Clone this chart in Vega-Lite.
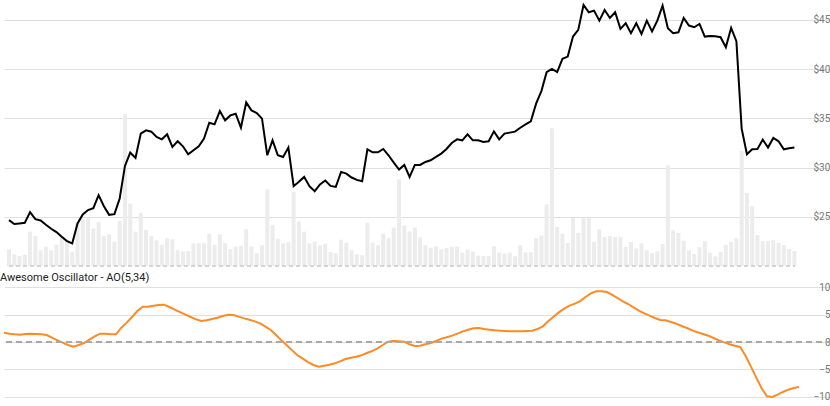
{
  "$schema": "https://vega.github.io/schema/vega-lite/v6.json",
  "padding": 0,
  "spacing": 5,
  "background": "white",
  "config": {
    "view": {"stroke": null},
    "font": "Roboto",
    "axis": {"grid": true, "gridColor": "#e0e0e0", "gridWidth": 1, "labelColor": "#777777", "labelFontSize": 10, "labelFont": "Roboto", "labelOverlap": false}
  },
  "data": {
    "values": [
      {"i":0,"price":24.66,"volume":16.7,"ao":1.70},
      {"i":1,"price":24.26,"volume":11.7,"ao":1.52},
      {"i":2,"price":24.32,"volume":10,"ao":1.39},
      {"i":3,"price":24.39,"volume":11,"ao":1.33},
      {"i":4,"price":25.47,"volume":34.3,"ao":1.45},
      {"i":5,"price":24.76,"volume":30,"ao":1.52},
      {"i":6,"price":24.63,"volume":15.7,"ao":1.45},
      {"i":7,"price":24.19,"volume":19.3,"ao":1.39},
      {"i":8,"price":23.78,"volume":15.7,"ao":1.27},
      {"i":9,"price":23.45,"volume":21.3,"ao":0.79},
      {"i":10,"price":22.97,"volume":30,"ao":0.30},
      {"i":11,"price":22.53,"volume":26,"ao":-0.12},
      {"i":12,"price":22.30,"volume":14.3,"ao":-0.55},
      {"i":13,"price":24.32,"volume":44,"ao":-0.85},
      {"i":14,"price":25.24,"volume":47,"ao":-0.55},
      {"i":15,"price":25.68,"volume":48,"ao":-0.18},
      {"i":16,"price":25.88,"volume":37.5,"ao":0.42},
      {"i":17,"price":27.20,"volume":44,"ao":1.03},
      {"i":18,"price":26.08,"volume":30,"ao":1.52},
      {"i":19,"price":25.20,"volume":31.7,"ao":1.52},
      {"i":20,"price":25.27,"volume":24.3,"ao":1.39},
      {"i":21,"price":26.86,"volume":45,"ao":1.39},
      {"i":22,"price":30.17,"volume":151.7,"ao":2.61},
      {"i":23,"price":31.52,"volume":62.5,"ao":3.52},
      {"i":24,"price":30.98,"volume":34.3,"ao":4.55},
      {"i":25,"price":33.45,"volume":53,"ao":5.64},
      {"i":26,"price":33.78,"volume":36,"ao":6.42},
      {"i":27,"price":33.65,"volume":30,"ao":6.42},
      {"i":28,"price":33.11,"volume":25.7,"ao":6.61},
      {"i":29,"price":32.87,"volume":21,"ao":6.73},
      {"i":30,"price":33.38,"volume":27.7,"ao":6.79},
      {"i":31,"price":32.09,"volume":26.7,"ao":6.36},
      {"i":32,"price":32.67,"volume":15.7,"ao":5.88},
      {"i":33,"price":32.16,"volume":14.7,"ao":5.45},
      {"i":34,"price":31.35,"volume":15,"ao":4.97},
      {"i":35,"price":31.76,"volume":22.7,"ao":4.55},
      {"i":36,"price":32.16,"volume":23,"ao":4.12},
      {"i":37,"price":32.94,"volume":23,"ao":3.82},
      {"i":38,"price":34.56,"volume":32.3,"ao":3.94},
      {"i":39,"price":34.39,"volume":21.3,"ao":4.18},
      {"i":40,"price":35.74,"volume":31.7,"ao":4.42},
      {"i":41,"price":34.80,"volume":22.8,"ao":4.73},
      {"i":42,"price":35.30,"volume":16.8,"ao":4.97},
      {"i":43,"price":35.47,"volume":19.5,"ao":4.91},
      {"i":44,"price":34.05,"volume":20.2,"ao":4.61},
      {"i":45,"price":36.62,"volume":36.7,"ao":4.30},
      {"i":46,"price":35.81,"volume":19.5,"ao":4.06},
      {"i":47,"price":35.54,"volume":12.8,"ao":3.76},
      {"i":48,"price":34.97,"volume":20.7,"ao":3.39},
      {"i":49,"price":31.25,"volume":76.7,"ao":2.79},
      {"i":50,"price":32.77,"volume":40.7,"ao":2.18},
      {"i":51,"price":31.25,"volume":27.3,"ao":1.27},
      {"i":52,"price":31.08,"volume":22.8,"ao":0.30},
      {"i":53,"price":32.03,"volume":23.7,"ao":-0.61},
      {"i":54,"price":28.11,"volume":74.3,"ao":-1.52},
      {"i":55,"price":28.55,"volume":44.7,"ao":-2.42},
      {"i":56,"price":29.05,"volume":34.3,"ao":-3.03},
      {"i":57,"price":28.11,"volume":22.7,"ao":-3.64},
      {"i":58,"price":27.60,"volume":24.3,"ao":-4.18},
      {"i":59,"price":28.28,"volume":20.7,"ao":-4.48},
      {"i":60,"price":28.68,"volume":22.3,"ao":-4.30},
      {"i":61,"price":28.14,"volume":14,"ao":-4.12},
      {"i":62,"price":28.04,"volume":12.7,"ao":-3.88},
      {"i":63,"price":29.56,"volume":26.3,"ao":-3.52},
      {"i":64,"price":29.39,"volume":23.3,"ao":-3.09},
      {"i":65,"price":28.99,"volume":15.7,"ao":-2.85},
      {"i":66,"price":28.75,"volume":11.7,"ao":-2.67},
      {"i":67,"price":28.61,"volume":10.7,"ao":-2.42},
      {"i":68,"price":31.86,"volume":43.3,"ao":-2.00},
      {"i":69,"price":31.55,"volume":23.3,"ao":-1.64},
      {"i":70,"price":31.55,"volume":20.7,"ao":-1.15},
      {"i":71,"price":31.89,"volume":32.3,"ao":-0.55},
      {"i":72,"price":31.25,"volume":27.7,"ao":0.06},
      {"i":73,"price":30.51,"volume":38.3,"ao":0.18},
      {"i":74,"price":29.80,"volume":86.7,"ao":0.12},
      {"i":75,"price":30.27,"volume":40.7,"ao":0.06},
      {"i":76,"price":29.05,"volume":34.7,"ao":-0.42},
      {"i":77,"price":30.27,"volume":38.7,"ao":-0.73},
      {"i":78,"price":30.27,"volume":28.7,"ao":-0.67},
      {"i":79,"price":30.57,"volume":20.7,"ao":-0.42},
      {"i":80,"price":30.74,"volume":18.3,"ao":-0.18},
      {"i":81,"price":31.08,"volume":19.7,"ao":0.18},
      {"i":82,"price":31.42,"volume":16.7,"ao":0.61},
      {"i":83,"price":31.89,"volume":18,"ao":0.85},
      {"i":84,"price":32.50,"volume":19.3,"ao":1.15},
      {"i":85,"price":32.87,"volume":19.3,"ao":1.52},
      {"i":86,"price":32.77,"volume":13.3,"ao":1.94},
      {"i":87,"price":33.38,"volume":16.3,"ao":2.24},
      {"i":88,"price":32.77,"volume":14.3,"ao":2.48},
      {"i":89,"price":32.77,"volume":10.3,"ao":2.55},
      {"i":90,"price":32.60,"volume":10,"ao":2.36},
      {"i":91,"price":32.67,"volume":10,"ao":2.24},
      {"i":92,"price":33.68,"volume":19.7,"ao":2.12},
      {"i":93,"price":32.87,"volume":13.7,"ao":2.06},
      {"i":94,"price":33.45,"volume":12.7,"ao":2.00},
      {"i":95,"price":33.55,"volume":13.3,"ao":1.94},
      {"i":96,"price":33.65,"volume":9.7,"ao":1.94},
      {"i":97,"price":34.05,"volume":20.7,"ao":1.94},
      {"i":98,"price":34.39,"volume":13.7,"ao":2.00},
      {"i":99,"price":34.70,"volume":13.7,"ao":2.06},
      {"i":100,"price":36.49,"volume":27.7,"ao":2.36},
      {"i":101,"price":37.77,"volume":30.3,"ao":2.85},
      {"i":102,"price":39.70,"volume":61.7,"ao":3.76},
      {"i":103,"price":40.03,"volume":137.7,"ao":4.61},
      {"i":104,"price":39.70,"volume":39,"ao":5.39},
      {"i":105,"price":41.05,"volume":32.3,"ao":6.06},
      {"i":106,"price":41.28,"volume":23,"ao":6.61},
      {"i":107,"price":43.31,"volume":48.3,"ao":6.97},
      {"i":108,"price":43.99,"volume":33,"ao":7.45},
      {"i":109,"price":46.52,"volume":48.3,"ao":8.18},
      {"i":110,"price":45.78,"volume":48.3,"ao":8.85},
      {"i":111,"price":45.95,"volume":24.3,"ao":9.21},
      {"i":112,"price":44.93,"volume":36.7,"ao":9.21},
      {"i":113,"price":46.01,"volume":29,"ao":9.09},
      {"i":114,"price":45.20,"volume":30,"ao":8.55},
      {"i":115,"price":45.78,"volume":29,"ao":8.00},
      {"i":116,"price":44.09,"volume":29,"ao":7.39},
      {"i":117,"price":44.66,"volume":19,"ao":6.91},
      {"i":118,"price":43.65,"volume":24,"ao":6.30},
      {"i":119,"price":44.66,"volume":17.7,"ao":5.70},
      {"i":120,"price":43.58,"volume":22.7,"ao":5.21},
      {"i":121,"price":44.93,"volume":15.7,"ao":4.79},
      {"i":122,"price":43.82,"volume":13,"ao":4.36},
      {"i":123,"price":44.93,"volume":14.7,"ao":4.00},
      {"i":124,"price":46.45,"volume":22,"ao":3.94},
      {"i":125,"price":44.16,"volume":100.7,"ao":3.64},
      {"i":126,"price":43.65,"volume":35.7,"ao":3.33},
      {"i":127,"price":43.75,"volume":33,"ao":2.91},
      {"i":128,"price":45.20,"volume":25.3,"ao":2.55},
      {"i":129,"price":44.43,"volume":15.7,"ao":2.12},
      {"i":130,"price":44.26,"volume":12,"ao":1.76},
      {"i":131,"price":44.59,"volume":18.7,"ao":1.45},
      {"i":132,"price":43.31,"volume":24.7,"ao":1.15},
      {"i":133,"price":43.38,"volume":13,"ao":0.73},
      {"i":134,"price":43.34,"volume":9.7,"ao":0.30},
      {"i":135,"price":43.24,"volume":14,"ao":-0.06},
      {"i":136,"price":42.23,"volume":21,"ao":-0.42},
      {"i":137,"price":44.19,"volume":24,"ao":-0.67},
      {"i":138,"price":42.84,"volume":27.7,"ao":-0.91},
      {"i":139,"price":33.95,"volume":115,"ao":-2.55},
      {"i":140,"price":31.35,"volume":73,"ao":-4.48},
      {"i":141,"price":31.86,"volume":60,"ao":-6.48},
      {"i":142,"price":31.89,"volume":31,"ao":-8.42},
      {"i":143,"price":32.84,"volume":25,"ao":-9.88},
      {"i":144,"price":32.03,"volume":25,"ao":-10.00},
      {"i":145,"price":33.01,"volume":25.7,"ao":-9.58},
      {"i":146,"price":32.67,"volume":23,"ao":-9.09},
      {"i":147,"price":31.86,"volume":21,"ao":-8.67},
      {"i":148,"price":31.96,"volume":17,"ao":-8.36},
      {"i":149,"price":32.03,"volume":15,"ao":-8.18}
    ]
  },
  "vconcat": [
    {
      "width": 828,
      "height": 262,
      "layer": [
        {
          "mark": {"type": "bar", "color": "#ececec", "size": 4, "clip": true},
          "encoding": {
            "x": {"field": "i", "type": "quantitative", "scale": {"domain": [0, 155.19], "nice": false, "zero": false}, "axis": null},
            "y": {"field": "volume", "type": "quantitative", "scale": {"domain": [0, 262], "nice": false}, "axis": null}
          }
        },
        {
          "mark": {"type": "rule", "color": "#d4d4d4", "strokeDash": [4, 3], "strokeWidth": 1},
          "encoding": {
            "x": {"datum": 0, "type": "quantitative"},
            "x2": {"datum": 149},
            "y": {"datum": 20, "type": "quantitative", "scale": {"domain": [20, 46.62], "nice": false, "zero": false}, "axis": null}
          }
        },
        {
          "mark": {"type": "line", "color": "#000000", "strokeWidth": 2},
          "encoding": {
            "x": {"field": "i", "type": "quantitative"},
            "y": {"field": "price", "type": "quantitative", "scale": {"domain": [20, 46.62], "nice": false, "zero": false},
              "axis": {"orient": "right", "title": null, "values": [25, 30, 35, 40, 45], "tickCount": 10, "labelExpr": "'$' + datum.value",
                "domain": false, "ticks": false, "grid": true, "labelPadding": -19, "labelAlign": "left", "labelBaseline": "middle"}}
          }
        }
      ],
      "resolve": {"scale": {"y": "independent"}}
    },
    {
      "width": 828,
      "height": 118,
      "title": {"text": "Awesome Oscillator - AO(5,34)", "anchor": "start", "fontSize": 11, "fontWeight": "normal", "color": "#212121", "offset": -1, "font": "Roboto"},
      "layer": [
        {
          "mark": {"type": "line", "color": "#fd8b25", "strokeWidth": 2},
          "encoding": {
            "x": {"field": "i", "type": "quantitative", "scale": {"domain": [0, 155.19], "nice": false, "zero": false}, "axis": null},
            "y": {"field": "ao", "type": "quantitative", "scale": {"domain": [-10.73, 10.73], "nice": false},
              "axis": {"orient": "right", "title": null, "values": [-10, -5, 0, 5, 10], "tickCount": 10, "domain": false, "ticks": false, "grid": true,
                "labelAlign": "right", "labelPadding": -2, "labelBaseline": "middle"}}
          }
        },
        {
          "mark": {"type": "rule", "color": "#a8a8a8", "strokeDash": [6, 4], "strokeWidth": 1},
          "encoding": {"y": {"datum": 0, "type": "quantitative"}}
        }
      ]
    }
  ]
}
